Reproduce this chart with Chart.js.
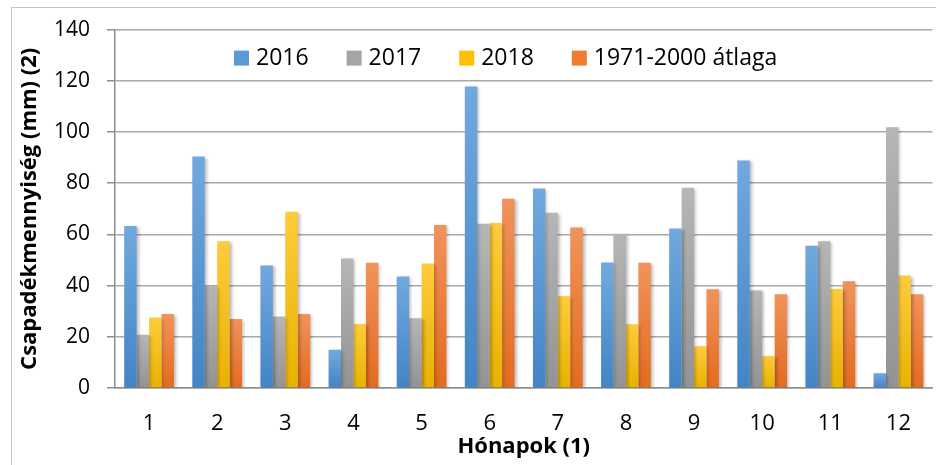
<!DOCTYPE html>
<html>
<head>
<meta charset="utf-8">
<script src="https://cdn.jsdelivr.net/npm/chart.js@4.4.1/dist/chart.umd.min.js"></script>
<style>
  html, body { margin: 0; padding: 0; background: #fff; overflow: hidden; }
  #wrap { position: relative; width: 936px; height: 465px; }
  #frame { position: absolute; left: 11px; top: 7px; width: 960px; height: 480px; border: 1px solid #c4c4c4; box-sizing: border-box; }
  #myChart { position: absolute; left: 0; top: 0; }
</style>
</head>
<body>
<div id="wrap">
  <div id="frame"></div>
  <canvas id="myChart" width="936" height="465"></canvas>
</div>
<script>
const months = ['1', '2', '3', '4', '5', '6', '7', '8', '9', '10', '11', '12'];
const rain2016 = [63.3, 90.4, 47.9, 14.9, 43.6, 117.8, 77.9, 49.0, 62.3, 88.9, 55.6, 5.8];
const rain2017 = [20.8, 39.7, 27.9, 50.6, 27.2, 64.2, 68.5, 60.3, 78.2, 38.1, 57.3, 101.9];
const rain2018 = [27.5, 57.3, 68.8, 25.0, 48.6, 64.5, 35.8, 24.9, 16.3, 12.5, 38.7, 43.9];
const rainAvg = [28.9, 27.0, 28.9, 48.9, 63.7, 73.9, 62.7, 48.9, 38.6, 36.6, 41.7, 36.6];

const FONT = "'Open Sans', 'Noto Sans', sans-serif";

// vertical gradient per bar, lighter at the top
function barGradient(light, dark) {
  return context => {
    const chart = context.chart;
    if (!chart.chartArea || context.raw == null) return dark;
    const y = chart.scales.y;
    const top = y.getPixelForValue(context.raw);
    const bottom = y.getPixelForValue(0);
    if (!isFinite(top) || top === bottom) return dark;
    const g = chart.ctx.createLinearGradient(0, top, 0, bottom);
    g.addColorStop(0, light);
    g.addColorStop(1, dark);
    return g;
  };
}

// soft shadow behind bars
const shadowPlugin = {
  id: 'barShadow',
  beforeDatasetsDraw(chart) {
    const c = chart.ctx;
    c.save();
    c.shadowColor = 'rgba(0,0,0,0.28)';
    c.shadowBlur = 3;
    c.shadowOffsetX = 2;
    c.shadowOffsetY = 1;
  },
  afterDatasetsDraw(chart) {
    chart.ctx.restore();
  }
};

// legend drawn inside the plot area, as in the original
const innerLegend = {
  id: 'innerLegend',
  afterDraw(chart) {
    const c = chart.ctx;
    const area = chart.chartArea;
    let x = area.left + 119;
    const yMid = area.top + 29;
    c.save();
    c.font = '23px ' + FONT;
    c.textBaseline = 'middle';
    c.textAlign = 'left';
    chart.data.datasets.forEach(ds => {
      c.fillStyle = ds.legendColor;
      c.fillRect(x, yMid - 8, 15, 15);
      c.fillStyle = '#000';
      c.fillText(ds.label, x + 22, yMid);
      x += 22 + c.measureText(ds.label).width + 38;
    });
    c.restore();
  }
};

const ctx = document.getElementById('myChart').getContext('2d');
const myChart = new Chart(ctx, {
  type: 'bar',
  data: {
    labels: months,
    datasets: [
      { label: '2016', data: rain2016, legendColor: '#5b9bd5', backgroundColor: barGradient('#71a9de', '#4384c5') },
      { label: '2017', data: rain2017, legendColor: '#a5a5a5', backgroundColor: barGradient('#b6b6b6', '#939393') },
      { label: '2018', data: rain2018, legendColor: '#ffc000', backgroundColor: barGradient('#ffcb3c', '#e8b200') },
      { label: '1971-2000 átlaga', data: rainAvg, legendColor: '#ed7d31', backgroundColor: barGradient('#f1935b', '#e36b1e') }
    ]
  },
  plugins: [shadowPlugin, innerLegend],
  options: {
    responsive: false,
    animation: false,
    layout: { padding: { left: 8, right: 0, top: 26, bottom: 7 } },
    datasets: {
      bar: { barPercentage: 1, categoryPercentage: 0.73 }
    },
    plugins: {
      legend: { display: false },
      tooltip: { enabled: false }
    },
    scales: {
      x: {
        grid: { display: false, drawTicks: false },
        border: { color: '#8c8c8c', width: 1.5 },
        ticks: { color: '#000', padding: 25, font: { family: FONT, size: 22, lineHeight: 1 } },
        afterFit(scale) { scale.height = 70; },
        title: {
          display: true,
          text: 'Hónapok (1)',
          color: '#000',
          padding: { top: 0, bottom: 0 },
          font: { family: FONT, size: 22, weight: 'bold', lineHeight: 1 }
        }
      },
      y: {
        min: 0,
        max: 140,
        ticks: { stepSize: 20, color: '#000', padding: 17, font: { family: FONT, size: 21 } },
        grid: { color: '#a8a8a8', lineWidth: 1.5, tickLength: 8, tickColor: '#8c8c8c' },
        border: { color: '#8c8c8c', width: 1.5 },
        afterFit(scale) { scale.width = 107; },
        title: {
          display: true,
          text: 'Csapadékmennyiség (mm) (2)',
          color: '#000',
          padding: { top: 10, bottom: 0 },
          font: { family: FONT, size: 22, weight: 'bold', lineHeight: 1.1 }
        }
      }
    }
  }
});
</script>
</body>
</html>
